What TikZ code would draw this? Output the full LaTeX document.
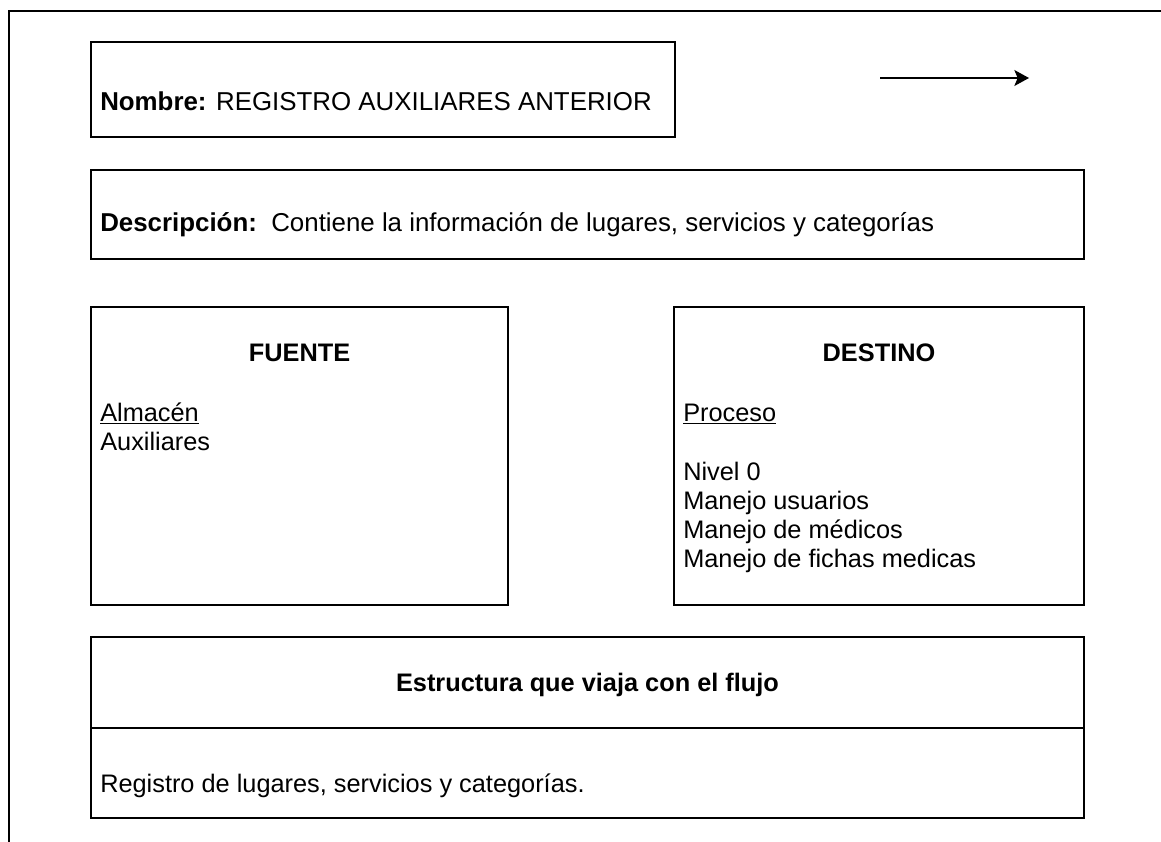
\documentclass[tikz,border=0pt]{standalone}
\usepackage{fontspec}
\setmainfont{Liberation Sans}
\usetikzlibrary{arrows.meta}
\tikzset{
  frame/.style={draw=black,line width=1.3pt},
  boxl/.style={draw=black,line width=1.3pt},
  txt/.style={anchor=base west,inner sep=0pt,font=\fontsize{19}{22}\selectfont},
  bigtxt/.style={txt,font=\fontsize{19.4}{22}\selectfont},
  ttl/.style={anchor=base,inner sep=0pt,font=\fontsize{19}{22}\selectfont\bfseries},
  flow/.style={black,line width=1pt,-{Stealth[length=11pt,width=12pt,inset=2.5pt]}},
}

\begin{document}
\begin{tikzpicture}[x=0.75pt,y=0.75pt]
  \useasboundingbox (0,0) rectangle (1161,-842);
  % outer frame
  \draw[frame] (1161,-11) -- (9,-11) -- (9,-842);
  % nombre
  \draw[boxl] (91,-42) rectangle (675,-137);
  \node[bigtxt] (nombre) at (100,-111) {\textbf{Nombre:} REGISTRO AUXILIARES ANTERIOR};
  \coordinate (flujoA) at (880,-78);
  \coordinate (flujoB) at (1029,-78);
  \draw[flow] (flujoA) -- (flujoB);
  % descripcion
  \draw[boxl] (91,-170) rectangle (1084,-259);
  \node[bigtxt] (desc) at (100,-231) {\textbf{Descripción:}\ \ Contiene la información de lugares, servicios y categorías};
  % fuente
  \draw[boxl] (91,-307) rectangle (508,-605);
  \node[ttl] (fuente) at (299.5,-361) {FUENTE};
  \node[txt] (almacen) at (100,-421) {\underline{Almacén}};
  \node[txt] (aux) at (100,-450) {Auxiliares};
  % destino
  \draw[boxl] (674,-307) rectangle (1084,-605);
  \node[ttl] (destino) at (879,-361) {DESTINO};
  \node[txt] (proceso) at (683,-421) {\underline{Proceso}};
  \node[txt] (nivel) at (683,-480) {Nivel 0};
  \node[txt] (musu) at (683,-509) {Manejo usuarios};
  \node[txt] (mmed) at (683,-538) {Manejo de médicos};
  \node[txt] (mfic) at (683,-567) {Manejo de fichas medicas};
  % estructura
  \draw[boxl] (91,-637) rectangle (1084,-818);
  \draw[boxl] (91,-728) -- (1084,-728);
  \node[ttl] (estr) at (587.5,-691) {Estructura que viaja con el flujo};
  \node[txt] (reg) at (100,-792) {Registro de lugares, servicios y categorías.};
\end{tikzpicture}
\end{document}
